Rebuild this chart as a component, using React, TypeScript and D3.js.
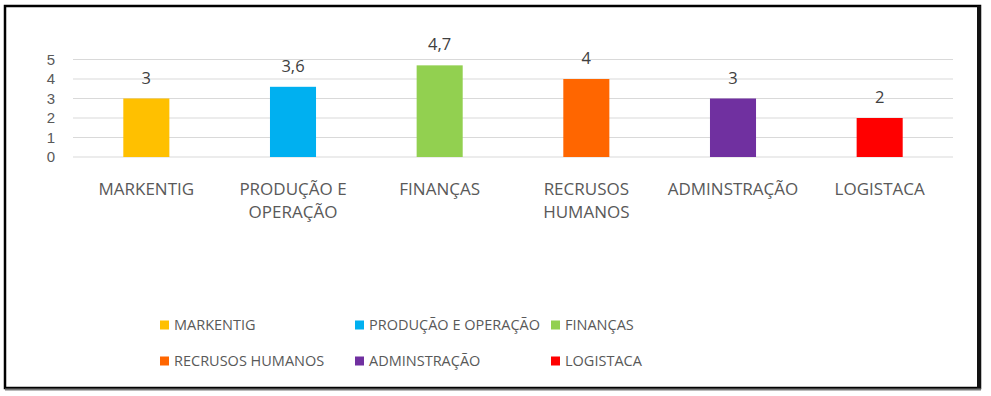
import React from "react";
import * as d3 from "d3";

const categories = ["MARKENTIG", "PRODUÇÃO E OPERAÇÃO", "FINANÇAS", "RECRUSOS HUMANOS", "ADMINSTRAÇÃO", "LOGISTACA"];
const categoryLines = [["MARKENTIG"], ["PRODUÇÃO E", "OPERAÇÃO"], ["FINANÇAS"], ["RECRUSOS", "HUMANOS"], ["ADMINSTRAÇÃO"], ["LOGISTACA"]];
const values = [3, 3.6, 4.7, 4, 3, 2];
const valueLabels = ["3", "3,6", "4,7", "4", "3", "2"];
const colors = ["#FFC000", "#00B0F0", "#92D050", "#FF6600", "#7030A0", "#FF0000"];
const yTicks = [0, 1, 2, 3, 4, 5];

const W = 991, H = 396;
const FONT = "'Open Sans', sans-serif";
const TICKFONT = "'Liberation Sans', Arial, sans-serif";

export default function App() {
  const x = d3.scaleBand<string>().domain(categories).range([73, 953]).paddingInner(0.686).paddingOuter(0.343);
  const y = d3.scaleLinear().domain([0, 5]).range([157, 59.5]);
  const legendPos = [
    [160, 325], [355, 325], [551, 325],
    [160, 361], [355, 361], [551, 361],
  ];
  return (
    <svg width={W} height={H} style={{ position: "absolute", left: 0, top: 0, background: "#fff" }}>
      <rect x={0} y={0} width={W} height={H} fill="#fff" />
      {/* frame */}
      <rect x={5} y={6} width={975} height={382} fill="none" stroke="#000" strokeWidth={2.5} />
      <line x1={979} y1={6} x2={979} y2={389} stroke="#111" strokeWidth={4} />
      <line x1={5} y1={389.5} x2={981} y2={389.5} stroke="#777" strokeWidth={2} />
      {/* gridlines */}
      {yTicks.map((t) => (
        <line key={t} x1={73} x2={953} y1={y(t)} y2={y(t)} stroke="#D9D9D9" strokeWidth={1} />
      ))}
      {yTicks.map((t) => (
        <text key={t} x={55} y={y(t)} dy="0.36em" textAnchor="end" fontFamily={TICKFONT} fontSize={15} fill="#595959">{t}</text>
      ))}
      {categories.map((c, i) => (
        <rect key={c} x={x(c)} y={y(values[i])} width={x.bandwidth()} height={y(0) - y(values[i])} fill={colors[i]} />
      ))}
      {categories.map((c, i) => (
        <text key={c} x={(x(c) as number) + x.bandwidth() / 2} y={y(values[i]) - 15} textAnchor="middle" fontFamily={FONT} fontSize={16.5} fill="#404040">{valueLabels[i]}</text>
      ))}
      {categories.map((c, i) => (
        <text key={c} x={(x(c) as number) + x.bandwidth() / 2} y={195} textAnchor="middle" fontFamily={FONT} fontSize={17} fill="#595959">
          {categoryLines[i].map((l, j) => (
            <tspan key={j} x={(x(c) as number) + x.bandwidth() / 2} dy={j === 0 ? 0 : 23}>{l}</tspan>
          ))}
        </text>
      ))}
      {categories.map((c, i) => (
        <g key={c}>
          <rect x={legendPos[i][0]} y={legendPos[i][1] - 4.5} width={9} height={9} fill={colors[i]} />
          <text x={legendPos[i][0] + 14} y={legendPos[i][1]} dy="0.36em" fontFamily={FONT} fontSize={14.5} fill="#595959">{c}</text>
        </g>
      ))}
    </svg>
  );
}
